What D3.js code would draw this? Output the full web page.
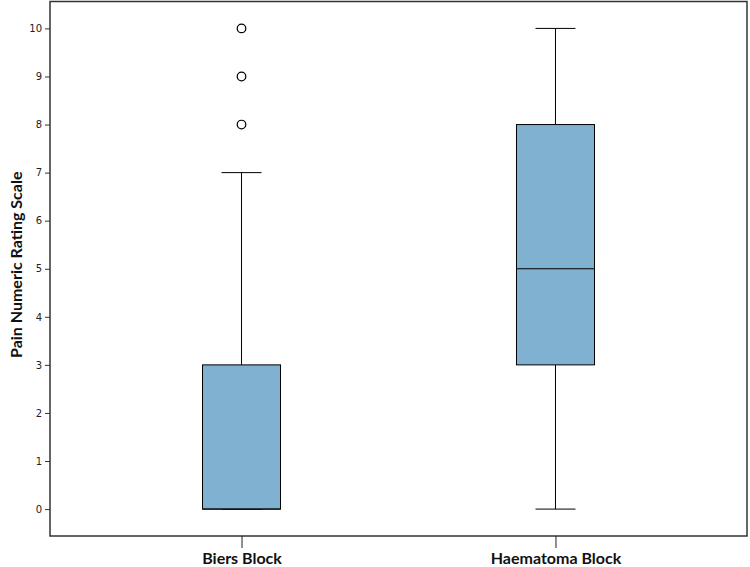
<!DOCTYPE html>
<html><head><meta charset="utf-8">
<script src="https://cdn.jsdelivr.net/npm/d3@7"></script>
<style>body{margin:0;background:#fff}</style>
</head><body>
<svg id="c" width="750" height="567"></svg>
<script>
const categories = ["Biers Block", "Haematoma Block"];
const whiskerLow = [0, 0];
const q1 = [0, 3];
const median = [0, 5];
const q3 = [3, 8];
const whiskerHigh = [7, 10];
const outliers = [[8, 9, 10], []];
const yTicks = [0,1,2,3,4,5,6,7,8,9,10];
const yTitle = "Pain Numeric Rating Scale";

const svg = d3.select("#c");
const L = 50, R = 747, T = 1.5, B = 536;
const x = d3.scalePoint().domain(categories).range([L, R]).padding(0.61);
const y = d3.scaleLinear().domain([-0.56, 10.56]).range([B, T]);
const boxW = 78, capW = 40;
const font = "Lato, 'Open Sans', sans-serif";

// frame
svg.append("rect").attr("x", L).attr("y", T).attr("width", R - L).attr("height", B - T)
  .attr("fill", "none").attr("stroke", "#333").attr("stroke-width", 1.5);

// y axis
const ya = svg.append("g").attr("transform", `translate(${L},0)`)
  .call(d3.axisLeft(y).tickValues(yTicks).tickSize(5).tickPadding(3).tickFormat(d3.format("d")));
ya.select(".domain").remove();
ya.selectAll("line").attr("stroke", "#333");
ya.selectAll("text").attr("font-family", "'DejaVu Sans', sans-serif").attr("font-size", 10).attr("fill", "#222");

// x axis
const xa = svg.append("g").attr("transform", `translate(0,${B})`)
  .call(d3.axisBottom(x).tickSize(12));
xa.select(".domain").remove();
xa.selectAll("line").attr("stroke", "#222");
xa.selectAll("text").attr("y", 28).attr("dy", 0).attr("font-family", font).attr("font-size", 16)
  .attr("font-weight", "bold").attr("fill", "#111");

// y title
svg.append("text").attr("transform", `translate(22,${(T + B) / 2 - 4}) rotate(-90)`)
  .attr("text-anchor", "middle").attr("font-family", font).attr("font-size", 16)
  .attr("font-weight", "bold").attr("fill", "#111").text(yTitle);

categories.forEach((c, i) => {
  const cx = x(c);
  const g = svg.append("g");
  g.append("line").attr("x1", cx).attr("x2", cx).attr("y1", y(whiskerHigh[i])).attr("y2", y(q3[i])).attr("stroke", "#000");
  g.append("line").attr("x1", cx).attr("x2", cx).attr("y1", y(q1[i])).attr("y2", y(whiskerLow[i])).attr("stroke", "#000");
  g.append("line").attr("x1", cx - capW / 2).attr("x2", cx + capW / 2).attr("y1", y(whiskerHigh[i])).attr("y2", y(whiskerHigh[i])).attr("stroke", "#000");
  g.append("line").attr("x1", cx - capW / 2).attr("x2", cx + capW / 2).attr("y1", y(whiskerLow[i])).attr("y2", y(whiskerLow[i])).attr("stroke", "#000");
  g.append("rect").attr("x", cx - boxW / 2).attr("width", boxW).attr("y", y(q3[i])).attr("height", y(q1[i]) - y(q3[i]))
    .attr("fill", "#80b1d0").attr("stroke", "#000").attr("stroke-width", 1);
  g.append("line").attr("x1", cx - boxW / 2).attr("x2", cx + boxW / 2).attr("y1", y(median[i])).attr("y2", y(median[i])).attr("stroke", "#000");
  outliers[i].forEach(v => {
    g.append("circle").attr("cx", cx).attr("cy", y(v)).attr("r", 4.3).attr("fill", "#fff").attr("stroke", "#000").attr("stroke-width", 1.2);
  });
});
</script>
</body></html>
